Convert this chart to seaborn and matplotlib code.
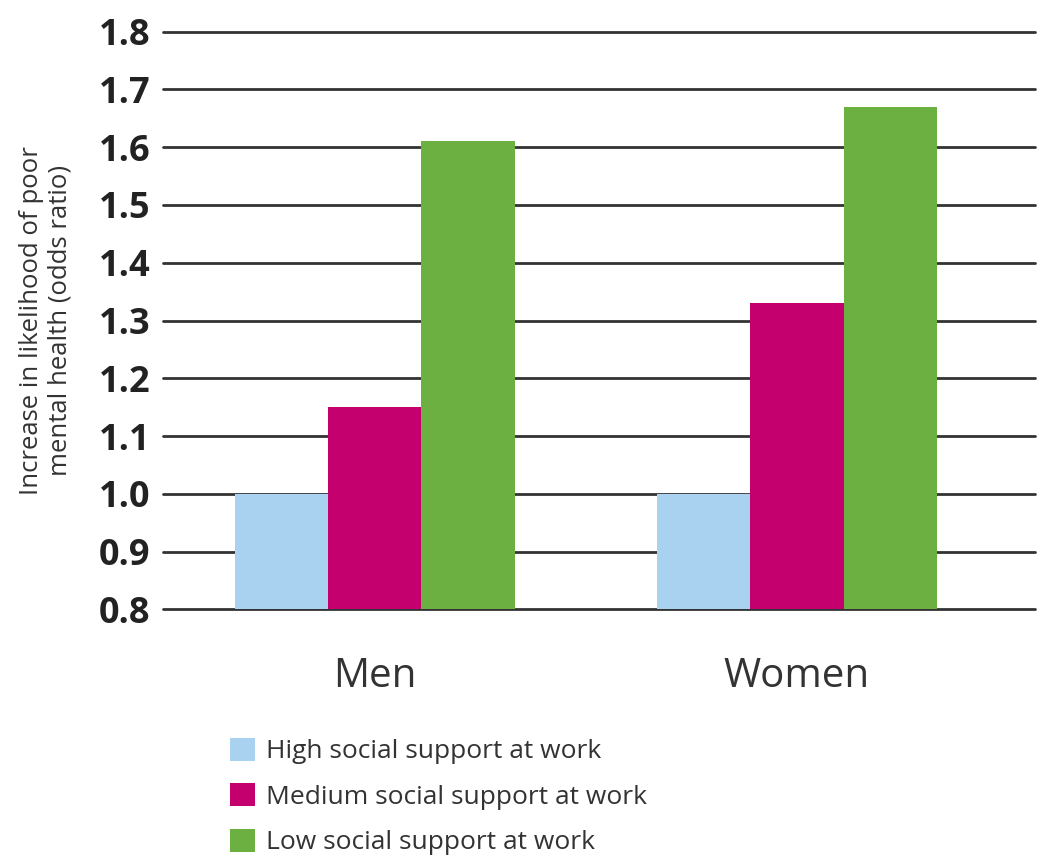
import matplotlib
matplotlib.use("Agg")
import matplotlib.pyplot as plt
import matplotlib.patches as mpatches
import seaborn as sns
import pandas as pd

# Odds ratios of poor mental health by level of social support at work
groups = ["Men", "Women"]
support_levels = ["High social support at work",
                  "Medium social support at work",
                  "Low social support at work"]
men_values = [1.00, 1.15, 1.61]
women_values = [1.00, 1.33, 1.67]
yticks = [0.8, 0.9, 1.0, 1.1, 1.2, 1.3, 1.4, 1.5, 1.6, 1.7, 1.8]
colors = ["#a9d1f0", "#c4006e", "#6db042"]

rows = []
for g, vals in zip(groups, [men_values, women_values]):
    for lvl, v in zip(support_levels, vals):
        rows.append({"group": g, "support": lvl, "odds": v})
df = pd.DataFrame(rows)

sns.set_theme(style="white")
plt.rcParams["font.family"] = ["Open Sans", "DejaVu Sans"]

fig = plt.figure(figsize=(10.4, 8.61), dpi=100)
ax = fig.add_axes([0.1567, 0.2923, 0.8385, 0.6709])

sns.barplot(data=df, x="group", y="odds", hue="support",
            hue_order=support_levels, palette=colors, saturation=1,
            width=0.663, gap=0, ax=ax, legend=False, zorder=3,
            linewidth=0, edgecolor="none")

for y in yticks:
    ax.axhline(y, color="#333333", lw=2.0, zorder=1, clip_on=False)

ax.set_ylim(0.8, 1.8)
ax.set_xlim(-0.502, 1.564)
ax.set_yticks(yticks)
ax.set_yticklabels([f"{t:.1f}" for t in yticks], fontsize=26,
                   fontweight="bold", color="#222222")
ax.tick_params(axis="y", length=0, pad=9)
ax.tick_params(axis="x", length=0, pad=34, labelsize=29, labelcolor="#333333")
for s in ax.spines.values():
    s.set_visible(False)
ax.set_xlabel("")
ax.set_ylabel("")

fig.text(0.044, 0.628, "Increase in likelihood of poor\nmental health (odds ratio)",
         rotation=90, ha="center", va="center", fontsize=18.5,
         color="#333333", linespacing=1.15)

handles = [mpatches.Patch(facecolor=c, edgecolor="none") for c in colors]
fig.legend(handles, support_levels, loc="upper left",
           bbox_to_anchor=(0.221, 0.143), frameon=False, fontsize=19,
           handlelength=0.95, handleheight=0.95, handletextpad=0.42,
           labelspacing=0.72, labelcolor="#333333", borderaxespad=0,
           borderpad=0)

fig.savefig("out.png", dpi=100)
